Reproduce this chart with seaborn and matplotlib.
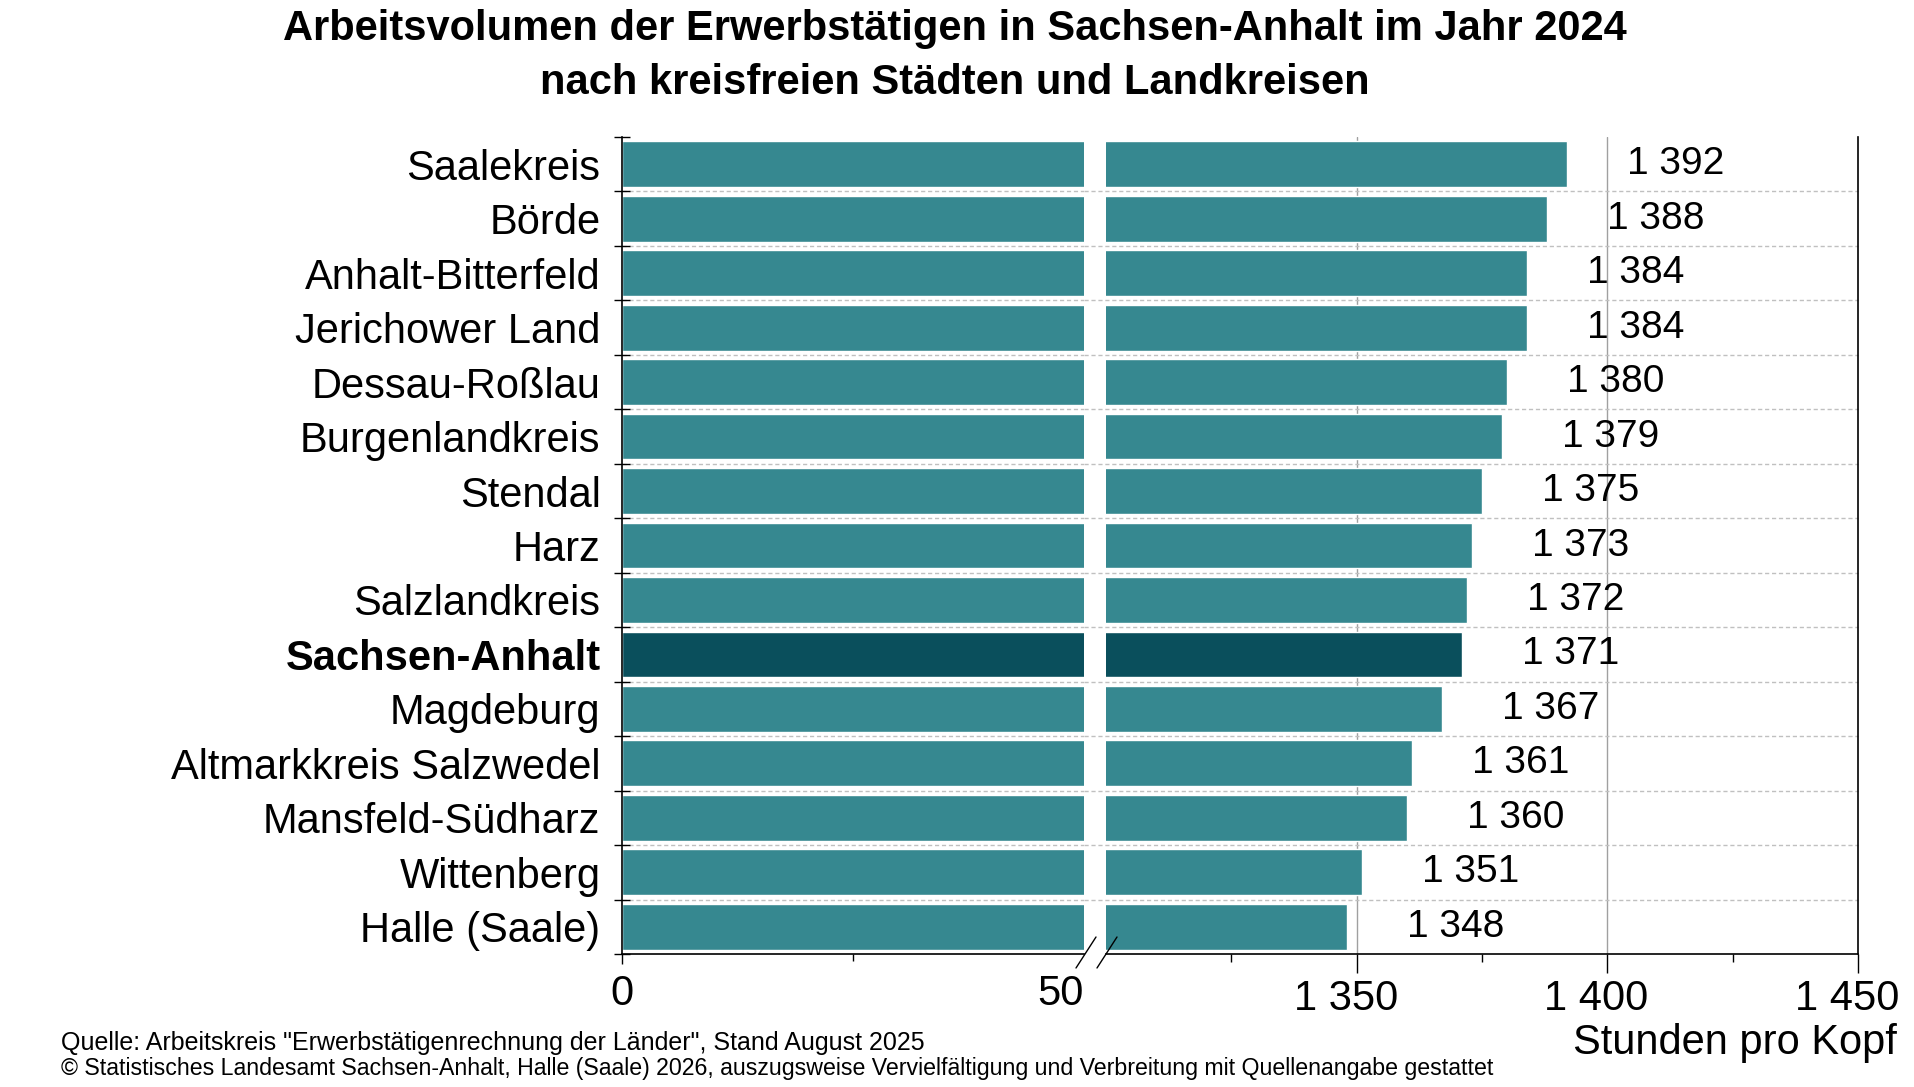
import matplotlib
matplotlib.use('Agg')
import matplotlib.pyplot as plt
from matplotlib.lines import Line2D
from matplotlib.transforms import ScaledTranslation
import seaborn as sns
import pandas as pd

# data (hours per employed person, 2024)
regions = ['Saalekreis', 'Börde', 'Anhalt-Bitterfeld', 'Jerichower Land', 'Dessau-Roßlau',
           'Burgenlandkreis', 'Stendal', 'Harz', 'Salzlandkreis', 'Sachsen-Anhalt',
           'Magdeburg', 'Altmarkkreis Salzwedel', 'Mansfeld-Südharz', 'Wittenberg', 'Halle (Saale)']
hours = [1392, 1388, 1384, 1384, 1380, 1379, 1375, 1373, 1372, 1371, 1367, 1361, 1360, 1351, 1348]
highlight = 'Sachsen-Anhalt'

left_ticks = [0, 50]
right_ticks = [1350, 1400, 1450]

title_1 = 'Arbeitsvolumen der Erwerbstätigen in Sachsen-Anhalt im Jahr 2024'
title_2 = 'nach kreisfreien Städten und Landkreisen'
unit = 'Stunden pro Kopf'
source_1 = 'Quelle: Arbeitskreis "Erwerbstätigenrechnung der Länder", Stand August 2025'
source_2 = ('© Statistisches Landesamt Sachsen-Anhalt, Halle (Saale) 2026, auszugsweise '
            'Vervielfältigung und Verbreitung mit Quellenangabe gestattet')

TEAL = '#368890'
DARK = '#0a4f5c'

sns.set_theme(style='white')
plt.rcParams['font.family'] = ['Liberation Sans', 'DejaVu Sans']
plt.rcParams.update({'text.color': 'black', 'axes.labelcolor': 'black',
                     'xtick.color': 'black', 'ytick.color': 'black'})

df = pd.DataFrame({'region': regions, 'hours': hours})
palette = {r: (DARK if r == highlight else TEAL) for r in regions}

W, H = 1914, 1087
fig = plt.figure(figsize=(W / 100, H / 100), dpi=100)


def px_box(x0, x1, y0, y1):
    return [x0 / W, 1 - y1 / H, (x1 - x0) / W, (y1 - y0) / H]


ax1 = fig.add_axes(px_box(622, 1084, 137, 954))
ax2 = fig.add_axes(px_box(1106, 1858, 137, 954))

n = len(regions)
for ax in (ax1, ax2):
    sns.barplot(data=df, x='hours', y='region', hue='region', palette=palette,
                order=regions, orient='h', width=0.84, legend=False, ax=ax, saturation=1)
    ax.set_ylim(n - 0.5, -0.5)
    ax.set_xlabel('')
    ax.set_ylabel('')
    ax.set_axisbelow(True)
    for s in ax.spines.values():
        s.set_color('black')
        s.set_linewidth(1.2)
    ax.spines['top'].set_visible(False)

# left panel: 0..50
ax1.set_xlim(0, 50)
ax1.spines['right'].set_visible(False)
ax1.set_xticks(left_ticks, [str(t) for t in left_ticks])
ax1.set_xticks([25], minor=True)
ax1.tick_params(axis='x', which='major', direction='out', length=7.2, width=1, color='black',
                labelsize=30, labelcolor='black', pad=7, bottom=True)
ax1.tick_params(axis='x', which='minor', direction='out', length=5, width=1, color='black', bottom=True)
xt = ax1.xaxis.get_major_ticks()
xt[1].tick1line.set_visible(False)
xt[1].label1.set_horizontalalignment('right')

# category labels on minor ticks, boundary ticks as majors
ax1.set_yticks([i - 0.5 for i in range(n + 1)], [''] * (n + 1))
ax1.set_yticks(range(n), regions, minor=True)
ax1.tick_params(axis='y', which='major', direction='inout', length=12.2, width=1, color='black', left=True)
ax1.tick_params(axis='y', which='minor', length=0, labelsize=30, labelcolor='black', pad=15.5)
for lab in ax1.get_yticklabels(minor=True):
    if lab.get_text() == highlight:
        lab.set_fontweight('bold')

# right panel: 1300..1450
ax2.set_xlim(1300, 1450)
ax2.spines['left'].set_visible(False)
ax2.set_yticks([])
ax2.set_xticks(right_ticks, [f'{t:,}'.replace(',', ' ') for t in right_ticks])
ax2.set_xticks([1325, 1375, 1425], minor=True)
ax2.tick_params(axis='x', which='major', direction='out', length=13.7, width=1, color='black',
                labelsize=30, labelcolor='black', pad=4, bottom=True)
ax2.tick_params(axis='x', which='minor', direction='out', length=6, width=1, color='black', bottom=True)
shift = ScaledTranslation(-0.11, 0, fig.dpi_scale_trans)
for tk in ax2.xaxis.get_major_ticks():
    tk.label1.set_transform(tk.label1.get_transform() + shift)
for t in right_ticks[:-1]:
    ax2.axvline(t, color='#a0a0a0', lw=1, zorder=0.5)

# dashed separators between categories, running across the gap
for i in range(n - 1):
    ax1.axhline(i + 0.5, color='#c0c0c0', lw=1, ls=(0, (3, 2)), zorder=0.5)
    ax2.axhline(i + 0.5, xmin=-22 / 752, xmax=1, color='#c0c0c0', lw=1, ls=(0, (3, 2)),
                zorder=0.5, clip_on=False)

# value labels
for i, v in enumerate(hours):
    ax2.text(v + 12, i, f'{v:,}'.replace(',', ' '), ha='left', va='center', fontsize=28,
             color='black', clip_on=False)

# axis break marks
for x0 in (1076, 1097):
    fig.add_artist(Line2D([x0 / W, (x0 + 20) / W], [1 - 968 / H, 1 - 937 / H], color='black', lw=1))

fig.text(0.499, 1 - 29 / H, title_1, ha='center', va='center', fontsize=30, fontweight='bold')
fig.text(0.499, 1 - 83 / H, title_2, ha='center', va='center', fontsize=30, fontweight='bold')
fig.text(1897 / W, 1 - 1043 / H, unit, ha='right', va='center', fontsize=30)
fig.text(61 / W, 1 - 1043 / H, source_1, ha='left', va='center', fontsize=18)
fig.text(61 / W, 1 - 1069 / H, source_2, ha='left', va='center', fontsize=16.7)

fig.savefig('out.png', dpi=100, facecolor='white')
